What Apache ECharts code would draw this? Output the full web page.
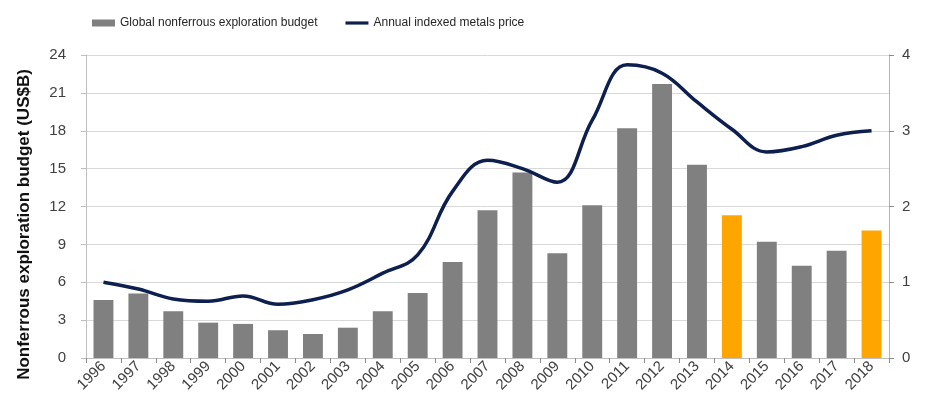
<!DOCTYPE html>
<html>
<head>
<meta charset="utf-8">
<script src="https://cdn.jsdelivr.net/npm/echarts@6/dist/echarts.min.js"></script>
<style>html,body{margin:0;padding:0;background:#fff}#c{width:927px;height:398px}</style>
</head>
<body>
<div id="c"></div>
<script>
const years = ['1996','1997','1998','1999','2000','2001','2002','2003','2004','2005','2006','2007','2008','2009','2010','2011','2012','2013','2014','2015','2016','2017','2018'];
const budget = [4.6,5.1,3.7,2.8,2.7,2.2,1.9,2.4,3.7,5.15,7.6,11.7,14.7,8.3,12.1,18.2,21.7,15.3,11.3,9.2,7.3,8.5,10.1];
const metalsPrice = [1.0,0.91,0.78,0.75,0.82,0.71,0.77,0.9,1.12,1.36,2.2,2.61,2.5,2.32,3.14,3.87,3.76,3.38,3.02,2.72,2.79,2.94,3.0];
const highlightYears = ['2014','2018'];
const leftTicks = {min:0, max:24, interval:3};
const rightTicks = {min:0, max:4, interval:1};
const budgetName = 'Global nonferrous exploration budget';
const priceName = 'Annual indexed metals price';
const leftAxisName = 'Nonferrous exploration budget (US$B)';

const GRAY = '#808080', ORANGE = '#FFA500', NAVY = '#0c1f4f';
const chart = echarts.init(document.getElementById('c'), null, {renderer:'canvas'});
chart.setOption({
  animation:false,
  textStyle:{fontFamily:'Liberation Sans, Arial, sans-serif'},
  legend:{
    left:87, top:12, itemGap:28, itemWidth:23, itemHeight:7, symbolKeepAspect:true,
    textStyle:{fontFamily:'Liberation Sans Narrow, Arial Narrow, sans-serif', fontSize:12, color:'#262626'},
    data:[
      {name:budgetName, icon:'rect', itemStyle:{color:GRAY}},
      {name:priceName, icon:'path://M0,0 L26,0 L26,3.6 L0,3.6 Z', itemStyle:{color:NAVY}}
    ]
  },
  grid:{left:86, right:38, top:55, bottom:40, containLabel:false},
  xAxis:{
    type:'category', data:years, boundaryGap:true,
    axisLine:{show:true, lineStyle:{color:'#bfbfbf'}},
    axisTick:{show:true, alignWithLabel:false, length:5, lineStyle:{color:'#8c8c8c'}},
    axisLabel:{rotate:45, fontSize:15, color:'#404040', margin:6, interval:0}
  },
  yAxis:[{
    type:'value', min:leftTicks.min, max:leftTicks.max, interval:leftTicks.interval,
    name:leftAxisName, nameLocation:'middle', nameGap:53, nameRotate:90,
    nameTextStyle:{fontSize:17, fontWeight:'bold', color:'#111', padding:[0,36,0,0]},
    axisLine:{show:true, lineStyle:{color:'#bfbfbf'}},
    axisTick:{show:true, length:5, lineStyle:{color:'#bfbfbf'}},
    axisLabel:{fontSize:15, color:'#404040', margin:20},
    splitLine:{show:true, lineStyle:{color:'#d9d9d9', width:1}}
  },{
    type:'value', position:'right', min:rightTicks.min, max:rightTicks.max, interval:rightTicks.interval,
    axisLine:{show:true, lineStyle:{color:'#a8b6c8'}},
    axisTick:{show:true, length:5, lineStyle:{color:'#8c8c8c'}},
    axisLabel:{fontSize:15, color:'#404040', margin:13},
    splitLine:{show:false}
  }],
  series:[{
    name:budgetName, type:'bar', yAxisIndex:0, data:budget, barWidth:'57%',
    itemStyle:{color:p => highlightYears.includes(p.name) ? ORANGE : GRAY}
  },{
    name:priceName, type:'line', yAxisIndex:1, data:metalsPrice, smooth:0.4,
    symbol:'none', lineStyle:{color:NAVY, width:3.5}, itemStyle:{color:NAVY}, z:5
  }]
});
</script>
</body>
</html>
